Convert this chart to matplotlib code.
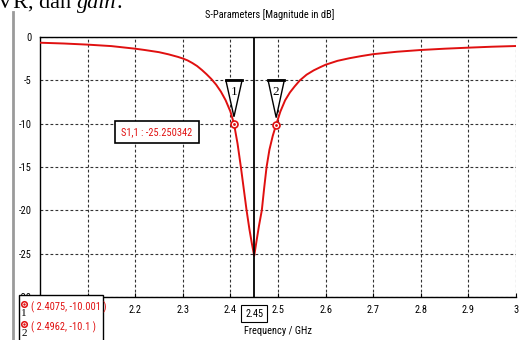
import matplotlib
matplotlib.use("Agg")
import matplotlib.pyplot as plt
from matplotlib.patches import Rectangle, Polygon
from matplotlib.lines import Line2D
from matplotlib.transforms import blended_transform_factory

# S1,1 magnitude (GHz, dB)
freq = [2.00, 2.05, 2.10, 2.15, 2.20, 2.22, 2.25, 2.27, 2.29, 2.30, 2.31, 2.32, 2.33,
        2.34, 2.35, 2.36, 2.37, 2.38, 2.39, 2.40, 2.4075, 2.415, 2.422, 2.428,
        2.434, 2.440, 2.445, 2.450, 2.455, 2.460, 2.466, 2.471, 2.476, 2.482,
        2.489, 2.4962, 2.505, 2.515, 2.525, 2.535, 2.546, 2.56, 2.575, 2.59,
        2.60, 2.625, 2.65, 2.675, 2.70, 2.75, 2.80, 2.85, 2.90, 2.95, 3.00]
s11 = [-0.66, -0.75, -0.88, -1.05, -1.35, -1.50, -1.75, -2.00, -2.30, -2.48, -2.70,
       -3.00, -3.35, -3.80, -4.30, -4.85, -5.50, -6.30, -7.30, -8.60, -10.00, -12.30,
       -15.00, -17.50, -20.00, -22.20, -23.80, -25.25, -23.50, -21.80, -20.00, -17.40,
       -15.00, -13.00, -11.40, -10.10, -8.60, -7.30, -6.40, -5.70, -5.00, -4.35,
       -3.85, -3.45, -3.20, -2.75, -2.45, -2.20, -1.98, -1.70, -1.50, -1.35, -1.23,
       -1.12, -1.04]

marker_freq = [2.4075, 2.4962]
marker_val = [-10.001, -10.1]
marker_names = ['1', '2']
min_label = 'S1,1 : -25.250342'
cursor_freq = 2.45

xticks = [2.1, 2.2, 2.3, 2.4, 2.5, 2.6, 2.7, 2.8, 2.9, 3.0]
xticklabels = ['', '2.2', '2.3', '2.4', '2.5', '2.6', '2.7', '2.8', '2.9', '3']
yticks = [0, -5, -10, -15, -20, -25, -30]

RED = '#e01010'
ui_font = ['Roboto Condensed', 'DejaVu Sans']
UI_SIZE = 7.5

fig = plt.figure(figsize=(5.22, 3.40), dpi=100)
ax = fig.add_axes([40 / 522, 43 / 340, 476 / 522, 260 / 340])

ax.plot(freq, s11, color=RED, lw=1.4, zorder=3)
ax.set_xlim(2.0, 3.0)
ax.set_ylim(-30, 0)

ax.set_xticks(xticks)
ax.set_xticklabels(xticklabels, fontfamily=ui_font, fontsize=UI_SIZE)
ax.set_yticks(yticks)
ax.set_yticklabels([str(v) for v in yticks], fontfamily=ui_font, fontsize=UI_SIZE)
ax.tick_params(direction='in', length=3, width=0.8, pad=6)
ax.tick_params(axis='y', length=0)
ax.grid(True, color='#333333', linestyle=(0, (2.5, 2)), linewidth=0.8)
ax.spines['right'].set_visible(False)
for s in ['left', 'top', 'bottom']:
    ax.spines[s].set_linewidth(1.0)

ax.set_xlabel('Frequency / GHz', fontfamily=ui_font, fontsize=UI_SIZE, labelpad=8)

# cursor line at the resonance
ax.axvline(cursor_freq, color='black', lw=1.3, zorder=4)
trans = blended_transform_factory(ax.transData, ax.transAxes)
ax.text(cursor_freq, -0.064, '2.45', transform=trans, ha='center', va='center',
        fontfamily=ui_font, fontsize=UI_SIZE,
        bbox=dict(boxstyle='square,pad=0.35', fc='white', ec='black', lw=0.8))

# markers 1 and 2
for f, v, name in zip(marker_freq, marker_val, marker_names):
    ax.plot(f, v, 'o', ms=5, mfc='white', mec=RED, mew=1.2, zorder=5)
    ax.plot(f, v, '.', ms=2, color=RED, zorder=6)
    tri = Polygon([[f - 0.017, -5.0], [f + 0.017, -5.0], [f, v + 0.8]],
                  closed=True, fc='white', ec='black', lw=1.0, zorder=5)
    ax.add_patch(tri)
    ax.plot([f - 0.017, f + 0.017], [-5.0, -5.0], color='black', lw=2, zorder=6)
    ax.text(f, -6.3, name, ha='center', va='center', fontsize=9.5,
            family='Liberation Serif', zorder=7)

ax.text(2.246, -10.95, min_label, ha='center', va='center', color=RED,
        fontfamily=ui_font, fontsize=UI_SIZE, zorder=7,
        bbox=dict(boxstyle='square,pad=0.6', fc='white', ec='black', lw=1.2))

fig.text(270 / 522, 1 - 15 / 340, 'S-Parameters [Magnitude in dB]', ha='center',
         va='center', fontfamily=ui_font, fontsize=UI_SIZE)

# marker legend box in the lower left corner
fig.patches.append(Rectangle((19 / 522, -0.05), 84 / 522, 0.05 + 45 / 340,
                             transform=fig.transFigure, fc='white', ec='black',
                             lw=1.0, zorder=5))
for i, (f, v, name) in enumerate(zip(marker_freq, marker_val, marker_names)):
    yy = 1 - (307 + 20 * i) / 340
    fig.add_artist(Line2D([24 / 522], [yy + 0.010], marker='o', ms=4, mfc='white',
                          mec=RED, mew=1.1, transform=fig.transFigure, zorder=6))
    fig.add_artist(Line2D([24 / 522], [yy + 0.010], marker='.', ms=1.5, color=RED,
                          transform=fig.transFigure, zorder=7))
    fig.text(24 / 522, yy - 0.018, name, ha='center', va='center',
             family='Liberation Serif', fontsize=8, zorder=6)
    fig.text(31 / 522, yy, f'( {f}, {v} )', color=RED, ha='left', va='center',
             fontfamily=ui_font, fontsize=UI_SIZE, zorder=6)

# page context: border line and cut-off document text above the screenshot
fig.add_artist(Line2D([13 / 522, 13 / 522], [0, 1 - 12 / 340],
                      transform=fig.transFigure, color='#9a9a9a', lw=2))
renderer = fig.canvas.get_renderer()
x_px = -3
for piece, style in [('VR, dan ', 'normal'), ('gain', 'italic'), ('.', 'normal')]:
    t = fig.text(x_px / 522, 1 - 8 / 340, piece, family='Liberation Serif',
                 style=style, fontsize=16, va='baseline')
    x_px += t.get_window_extent(renderer).width

fig.savefig('out.png', dpi=100)
